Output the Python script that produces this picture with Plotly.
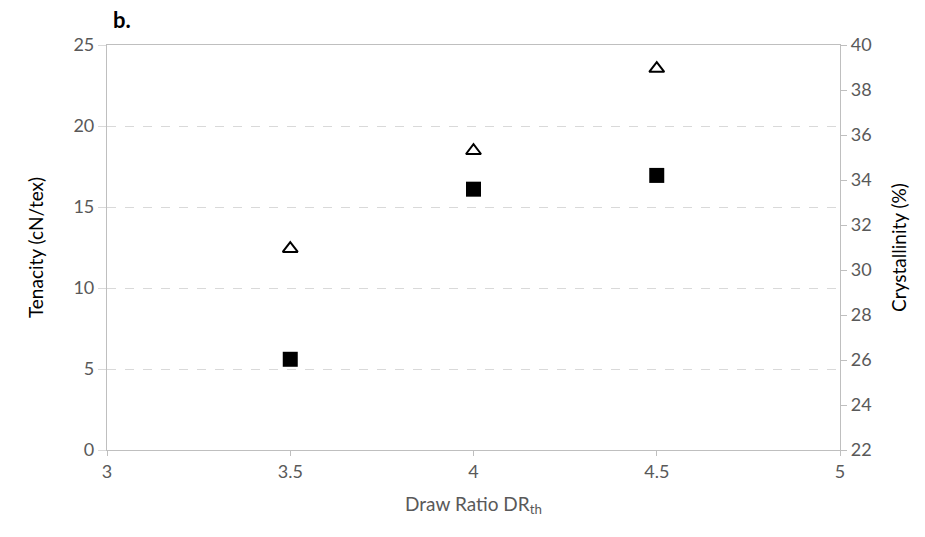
import plotly.graph_objects as go

draw_ratio = [3.5, 4.0, 4.5]
tenacity = [5.6, 16.1, 16.95]        # cN/tex, left axis (filled squares)
crystallinity = [30.95, 35.3, 38.95]  # %, right axis (open triangles)

FONT = "Lato, Carlito, Calibri, sans-serif"
TICKC = "#595959"
AXC = "#BFBFBF"

fig = go.Figure()
fig.add_trace(go.Scatter(x=draw_ratio, y=tenacity, mode="markers", name="Tenacity",
                         marker=dict(symbol="square", size=15, color="black"),
                         yaxis="y"))
fig.add_trace(go.Scatter(x=draw_ratio, y=crystallinity, mode="markers", name="Crystallinity",
                         marker=dict(symbol="triangle-up-open", size=13, color="black",
                                     line=dict(width=2, color="black")),
                         yaxis="y2"))

fig.update_layout(
    width=925, height=537,
    margin=dict(l=107, r=85, t=45, b=87),
    plot_bgcolor="white", paper_bgcolor="white",
    showlegend=False,
    font=dict(family=FONT, size=18, color=TICKC),
    xaxis=dict(range=[3, 5], dtick=0.5, tick0=3, showgrid=False, zeroline=False,
               showline=True, linecolor=AXC, linewidth=1.2, mirror=True,
               ticks="outside", ticklen=5, tickcolor=AXC,
               title=dict(text="Draw Ratio DR<sub>th</sub>", standoff=16,
                          font=dict(size=19, color=TICKC))),
    yaxis=dict(range=[0, 25], dtick=5, showgrid=True, gridcolor="#D9D9D9",
               griddash="dash", gridwidth=1.2, zeroline=False,
               showline=True, linecolor=AXC, linewidth=1.2,
               ticks="outside", ticklen=8, tickcolor="#D9D9D9",
               title=dict(text="Tenacity (cN/tex)", standoff=24,
                          font=dict(size=19, color="black"))),
    yaxis2=dict(range=[22, 40], dtick=2, overlaying="y", side="right",
                showgrid=False, zeroline=False,
                showline=True, linecolor=AXC, linewidth=1.2,
                ticks="outside", ticklen=6, tickcolor=AXC,
                title=dict(text="Crystallinity (%)", standoff=22,
                           font=dict(size=19, color="black"))),
    annotations=[dict(text="<b>b.</b>", xref="paper", yref="paper", x=0.005, y=1.0,
                      xanchor="left", yanchor="bottom", yshift=10, showarrow=False,
                      font=dict(size=22, color="black", family=FONT))],
)

fig.write_html("out.html")
